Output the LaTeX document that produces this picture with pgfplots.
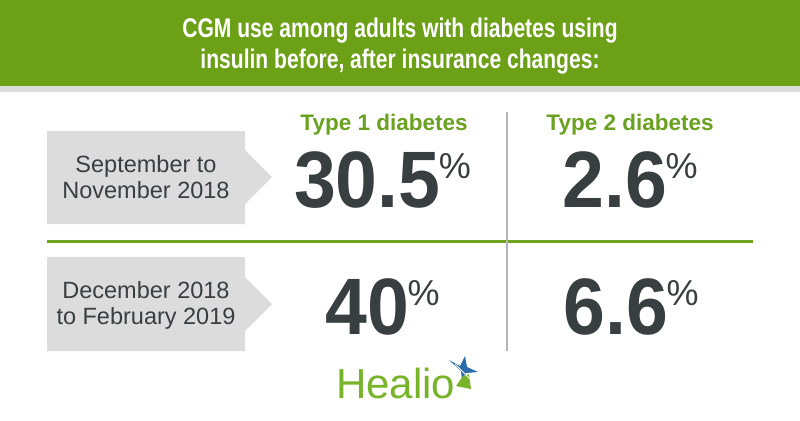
\documentclass[border=0pt]{standalone}
\usepackage{pgfplots}
\usepackage{pgfplotstable}
\pgfplotsset{compat=1.18}
\usepackage{fontspec}
\setmainfont{Liberation Sans}
\newfontfamily\condfont{Liberation Sans}[FakeStretch=0.78]
\newfontfamily\numfont{Liberation Sans}[FakeStretch=0.94]

\definecolor{bannerGreen}{HTML}{6BA017}
\definecolor{lineGreen}{HTML}{6FA31E}
\definecolor{headGreen}{HTML}{6BA120}
\definecolor{boxGrey}{HTML}{DCDCDC}
\definecolor{darkText}{HTML}{393E40}
\definecolor{rule}{HTML}{B4B4B4}
\definecolor{healioGreen}{HTML}{78B42A}
\definecolor{healioBlue}{HTML}{2A6BAD}

% CGM use (%), columns: type 1 / type 2; rows: before / after
\pgfplotstableread{
x     y   label
382.5 207 30.5
630   207 2.6
382.5 334 40
631   334 6.6
}\cgmdata

\begin{document}
\begin{tikzpicture}
\begin{axis}[
  scale only axis, width=800bp, height=420bp,
  xmin=0, xmax=800, ymin=0, ymax=420, y dir=reverse,
  hide axis, clip=false,
]
% background and banner
\fill[white] (axis cs:0,0) rectangle (axis cs:800,420);
\fill[bannerGreen] (axis cs:0,0) rectangle (axis cs:800,86);
\fill[boxGrey] (axis cs:0,86) rectangle (axis cs:800,92);
\node[text=white,align=center,inner sep=0pt,
  font=\condfont\bfseries\fontsize{27bp}{31bp}\selectfont]
  at (axis cs:400,46.5) {CGM use among adults with diabetes using\\insulin before, after insurance changes:};

% row label arrows
\fill[boxGrey] (axis cs:47,131) -- (axis cs:245,131) -- (axis cs:245,150) -- (axis cs:272,177)
  -- (axis cs:245,204) -- (axis cs:245,224) -- (axis cs:47,224) -- cycle;
\fill[boxGrey] (axis cs:47,257) -- (axis cs:245,257) -- (axis cs:245,277) -- (axis cs:272,304)
  -- (axis cs:245,331) -- (axis cs:245,351) -- (axis cs:47,351) -- cycle;
\node[text=darkText,align=center,inner sep=0pt,font=\fontsize{23.5bp}{26bp}\selectfont]
  at (axis cs:146,177.5) {September to\\November 2018};
\node[text=darkText,align=center,inner sep=0pt,font=\fontsize{23.5bp}{26bp}\selectfont]
  at (axis cs:146,305) {December 2018\\to February 2019};

% rules
\draw[lineGreen,line width=3bp] (axis cs:47,241) -- (axis cs:753,241);
\draw[rule,line width=1.3bp] (axis cs:507,112) -- (axis cs:507,351);

% column headers
\node[text=headGreen,anchor=base,inner sep=0pt,font=\bfseries\fontsize{22.5bp}{26bp}\selectfont]
  at (axis cs:384,130) {Type 1 diabetes};
\node[text=headGreen,anchor=base,inner sep=0pt,font=\bfseries\fontsize{22.5bp}{26bp}\selectfont]
  at (axis cs:630,130) {Type 2 diabetes};

% values
\addplot[draw=none, mark=none, point meta=explicit symbolic,
  nodes near coords={{\numfont\bfseries\fontsize{80bp}{80bp}\selectfont\pgfplotspointmeta}\hspace{-1.5bp}\raisebox{29bp}{\fontsize{36bp}{36bp}\selectfont\%}},
  every node near coord/.append style={anchor=base,inner sep=0pt,text=darkText,yshift=0pt},
] table[x=x, y=y, meta=label] {\cgmdata};

% logo
\node[text=healioGreen,anchor=base west,inner sep=0pt,font=\fontsize{42bp}{42bp}\selectfont]
  at (axis cs:336,398) {Healio};
\fill[healioBlue] (axis cs:449,360) -- (axis cs:460,366) -- (axis cs:465,356) -- (axis cs:467,367)
  -- (axis cs:478,372) -- (axis cs:466,373) -- (axis cs:462,380) -- (axis cs:461,371) -- cycle;
\fill[healioGreen] (axis cs:463,376) -- (axis cs:469,374) -- (axis cs:471,389) -- (axis cs:456,386) -- cycle;
\draw[white,line width=0.8bp] (axis cs:455,364) -- (axis cs:472,381);
\end{axis}
\end{tikzpicture}
\end{document}
